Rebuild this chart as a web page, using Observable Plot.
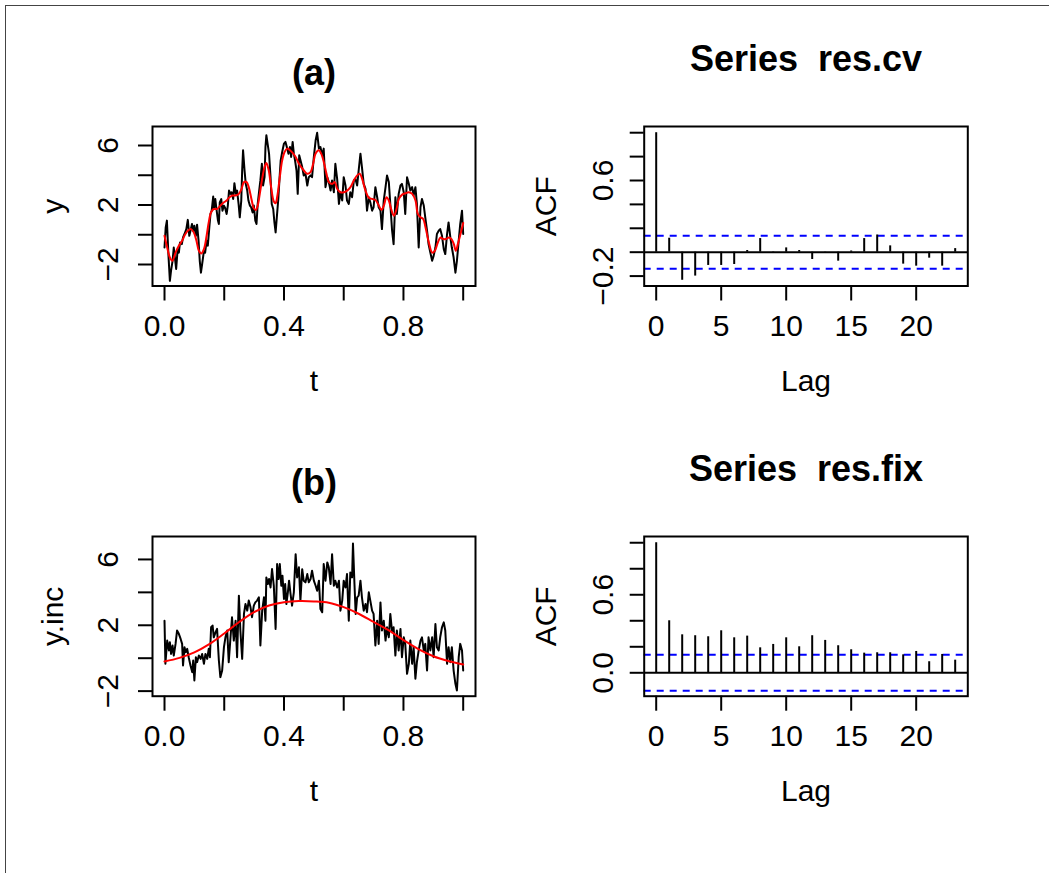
<!DOCTYPE html>
<html><head><meta charset="utf-8">
<script src="https://cdn.jsdelivr.net/npm/d3@7"></script>
<script src="https://cdn.jsdelivr.net/npm/@observablehq/plot@0.6"></script>
<style>
body{margin:0;background:#fff;}
#wrap{position:relative;width:1049px;height:873px;overflow:hidden;background:#fff;}
#border{position:absolute;left:5px;top:5px;width:2000px;height:2000px;border-left:1px solid #444;border-top:1px solid #444;}
#wrap svg{position:absolute;}
</style></head><body><div id="wrap"><div id="border"></div></div>
<script>
// ---------- data ----------
const aT = [0.000,0.004,0.008,0.013,0.018,0.022,0.027,0.031,0.036,0.039,0.044,0.048,0.052,0.058,0.062,0.067,0.073,0.078,0.083,0.087,0.092,0.096,0.100,0.105,0.109,0.114,0.118,0.122,0.126,0.132,0.136,0.141,0.145,0.150,0.154,0.158,0.163,0.166,0.170,0.174,0.179,0.182,0.185,0.190,0.194,0.199,0.203,0.208,0.212,0.216,0.221,0.225,0.230,0.234,0.239,0.243,0.248,0.252,0.257,0.260,0.263,0.268,0.272,0.277,0.281,0.286,0.290,0.295,0.299,0.304,0.308,0.312,0.317,0.321,0.326,0.330,0.335,0.338,0.341,0.346,0.350,0.355,0.359,0.364,0.368,0.372,0.376,0.381,0.385,0.389,0.394,0.400,0.405,0.411,0.415,0.420,0.424,0.429,0.433,0.437,0.442,0.446,0.451,
 0.461,0.466,0.472,0.478,0.483,0.489,0.494,0.500,0.506,0.511,0.517,0.522,0.528,0.533,0.539,0.545,0.550,0.556,0.561,0.567,0.572,0.578,0.584,0.589,0.595,0.600,0.606,0.611,0.617,0.622,0.628,0.634,0.639,0.645,0.650,0.656,0.661,0.667,0.673,0.678,0.684,0.689,0.695,0.700,0.706,0.712,0.717,0.723,0.728,0.734,0.740,0.745,0.751,0.756,0.762,0.767,0.773,0.778,0.784,0.790,0.795,0.801,0.806,0.812,0.818,0.823,0.829,0.834,0.840,0.845,0.851,0.857,0.862,0.868,0.873,0.879,0.884,0.890,0.896,0.901,0.907,0.912,0.918,0.923,0.929,0.935,0.940,0.946,0.951,0.957,0.962,0.968,0.974,0.979,0.985,0.990,0.996,1.000];
const aY = [-0.86,0.5,0.95,-1.3,-3.1,-2.4,-1.75,-0.86,-1.75,-2.3,-0.97,-1.2,-0.52,-0.63,-0.18,0.05,0.38,1.0,-0.07,0.27,0.72,0.27,0.6,-0.07,0.68,-0.4,-1.75,-2.55,-1.98,-1.08,-1.2,-0.4,-0.74,0.5,1.4,1.62,2.57,1.8,2.4,1.73,0.95,0.72,2.18,2.4,1.62,1.96,1.8,1.4,1.96,2.97,2.75,2.86,2.4,3.47,2.75,2.97,2.07,1.17,2.3,4.32,5.68,4.32,3.42,2.97,2.3,1.96,1.85,1.5,1.96,0.95,0.72,2.07,2.97,3.65,4.77,3.31,3.87,5.9,6.69,6.01,5.45,3.87,2.07,1.73,0.83,0.16,1.17,2.41,3.76,5.0,5.56,6.13,6.24,5.79,5.45,5.9,5.23,6.24,5.45,5.0,4.32,2.75,5.34,
 4.55,3.99,4.1,3.31,3.87,3.99,3.87,5.23,6.35,6.85,5.79,5.9,5.34,5.79,3.2,3.87,3.54,2.97,3.65,2.86,4.77,3.76,2.07,2.86,2.3,3.87,3.31,2.3,2.07,2.86,2.52,3.65,3.76,3.31,4.32,5.45,4.55,3.42,3.09,1.62,2.52,2.18,1.62,1.85,3.2,2.52,1.85,1.62,0.38,2.3,3.2,3.99,3.54,2.07,0.27,-0.63,2.52,1.4,2.75,3.31,3.42,2.86,1.4,3.87,3.42,2.97,3.2,2.64,3.2,2.07,-0.86,1.85,2.41,1.96,1.17,0.27,-0.63,-1.2,-1.75,-1.42,-0.86,0.05,0.27,0.38,-0.07,-0.97,-1.3,0.05,0.83,-0.18,-0.86,-1.53,-2.55,-1.75,-0.4,0.72,1.62,0.05];
const aFitT = [0,0.009,0.018,0.026,0.037,0.048,0.059,0.070,0.081,0.089,0.098,0.107,0.115,0.123,0.132,0.141,0.148,0.156,0.165,0.176,0.187,0.199,0.208,0.215,0.227,0.238,0.249,0.258,0.266,0.275,0.282,0.291,0.299,0.306,0.312,0.319,0.327,0.335,0.341,0.349,0.357,0.366,0.372,0.377,0.386,0.394,0.402,0.411,0.420,0.429,0.439,0.450,
 0.4665,0.4776,0.4888,0.4977,0.5055,0.5167,0.5245,0.5334,0.5423,0.5502,0.5613,0.5702,0.5781,0.5892,0.6004,0.6115,0.6227,0.6339,0.6450,0.6539,0.6617,0.6729,0.6841,0.6952,0.7064,0.7175,0.7265,0.7343,0.7432,0.7510,0.7588,0.7678,0.7767,0.7845,0.7957,0.8069,0.8180,0.8292,0.8403,0.8481,0.8571,0.8660,0.8738,0.8850,0.8961,0.9051,0.9151,0.9241,0.9330,0.9419,0.9520,0.9609,0.9687,0.9754,0.9821,0.9910,1.000];
const aFitY = [-0.07,-0.86,-1.53,-1.75,-1.2,-0.74,-0.4,0.05,0.32,0.38,0.16,-0.4,-1.08,-1.26,-0.97,-0.07,0.83,1.51,1.73,1.73,1.96,2.18,2.3,2.48,2.64,2.64,2.75,3.09,3.54,3.54,3.2,2.41,1.78,1.67,1.96,2.75,3.76,4.55,4.82,4.32,3.2,2.23,2.12,2.52,3.87,5.0,5.56,5.79,5.68,5.5,5.23,4.77,
 4.32,4.1,4.21,4.77,5.45,5.68,5.45,4.88,4.1,3.54,3.42,3.54,3.09,2.86,2.86,2.97,3.2,3.65,3.99,4.1,3.76,2.97,2.48,2.41,2.34,1.96,1.67,1.96,2.52,2.3,1.73,1.28,1.73,2.41,2.7,2.79,2.86,2.75,2.3,1.4,1.17,1.06,0.5,-0.52,-1.2,-1.08,-0.52,-0.18,-0.29,-0.29,-0.18,-0.29,-0.63,-1.08,-0.63,0.05,0.79];

const bT = [0,0.003,0.009,0.015,0.018,0.022,0.027,0.031,0.037,0.042,0.048,0.054,0.059,0.062,0.067,0.071,0.076,0.081,0.087,0.093,0.096,0.100,0.105,0.109,0.115,0.121,0.126,0.132,0.137,0.143,0.148,0.152,0.156,0.161,0.165,0.171,0.176,0.182,0.187,0.193,0.199,0.204,0.210,0.215,0.221,0.226,0.232,0.238,0.243,0.249,0.254,0.260,0.266,0.271,0.277,0.282,0.288,0.293,0.299,0.304,0.310,0.316,0.321,0.327,0.333,0.338,0.341,0.346,0.350,0.355,0.360,0.366,0.372,0.377,0.382,0.386,0.391,0.395,0.400,0.404,0.408,0.413,0.417,0.422,0.427,0.433,0.439,0.444,0.450,
 0.455,0.461,0.466,0.472,0.478,0.483,0.489,0.494,0.500,0.506,0.511,0.517,0.522,0.528,0.533,0.539,0.545,0.550,0.556,0.561,0.567,0.572,0.578,0.584,0.589,0.595,0.600,0.606,0.611,0.617,0.622,0.628,0.631,0.636,0.640,0.645,0.650,0.656,0.661,0.667,0.673,0.678,0.684,0.689,0.695,0.700,0.706,0.712,0.717,0.723,0.728,0.734,0.740,0.745,0.751,0.756,0.762,0.767,0.773,0.778,0.784,0.790,0.795,0.801,0.806,0.812,0.818,0.823,0.829,0.834,0.840,0.845,0.851,0.857,0.862,0.868,0.873,0.879,0.884,0.890,0.896,0.901,0.907,0.912,0.918,0.923,0.929,0.935,0.940,0.946,0.951,0.957,0.962,0.968,0.974,0.979,0.985,0.990,0.996,1.0];
const bY = [2.28,-0.34,1.07,0.47,0.97,0.26,0.77,0.16,0.87,1.68,1.48,1.17,0.87,-0.44,0.67,0.36,0.57,0.06,-0.44,-0.85,-0.14,-1.35,0.06,-0.24,0.16,-0.04,0.26,-0.34,0.26,-0.04,0.57,0.06,1.88,1.98,1.27,1.58,1.78,-0.14,-1.15,-0.75,0.67,1.27,1.68,-0.24,1.27,2.49,1.07,2.28,0.06,3.8,1.68,-0.04,2.69,3.29,2.89,3.5,3.09,2.49,3.19,3.39,3.5,3.7,0.77,2.89,3.7,2.28,4.91,4.51,4.81,4.3,5.42,4.4,1.78,5.72,4.81,5.72,4.4,5.01,3.6,4.51,3.29,4.0,4.71,3.9,3.19,4.0,6.32,4.91,5.52,
 3.5,5.41,4.71,4.61,5.11,4.61,4.81,5.31,4.71,4.4,4.1,4.71,2.99,2.79,5.72,4.71,5.82,5.52,4.51,6.32,4.4,4.71,4.3,4.71,2.89,3.5,4.71,4.3,5.11,2.28,5.21,4.91,6.97,4.51,2.69,3.7,3.8,4.71,3.7,2.89,3.29,2.79,4.0,3.5,2.89,2.69,0.77,2.28,0.87,3.39,1.68,2.28,1.07,1.88,1.27,2.69,1.58,1.88,0.16,1.68,0.47,1.78,0.06,1.27,0.87,-0.95,-0.34,1.07,-0.34,0.67,-1.25,-0.24,0.47,1.07,1.27,0.47,0.87,-0.75,1.27,0.47,1.27,0.06,2.08,0.67,0.47,1.27,1.88,2.18,1.68,-0.34,0.67,-0.24,0.67,-0.75,-1.56,-1.96,0.06,0.87,0.47,-0.75];
const bFitT = [0,0.05,0.10,0.15,0.20,0.25,0.30,0.35,0.40,0.45,0.50,0.55,0.60,0.65,0.70,0.75,0.80,0.85,0.90,0.95,1.0];
const bFitY = [-0.2,0.02,0.35,0.85,1.50,2.20,2.80,3.20,3.40,3.47,3.45,3.37,3.10,2.70,2.20,1.70,1.10,0.55,0.12,-0.17,-0.38];

const lags   = [0,1,2,3,4,5,6,7,8,9,10,11,12,13,14,15,16,17,18,19,20,21,22,23];
const acfCv  = [1,0.117,-0.235,-0.20,-0.111,-0.111,-0.103,0.014,0.114,0.003,0.036,0.014,-0.061,0.002,-0.075,0.01,0.114,0.144,0.053,-0.10,-0.117,-0.05,-0.117,0.03];
const acfFix = [1,0.400,0.292,0.285,0.277,0.323,0.269,0.282,0.192,0.218,0.269,0.200,0.285,0.249,0.208,0.177,0.151,0.154,0.154,0.138,0.164,0.085,0.141,0.097];
const ciBand = [0.1386, -0.1386];

const tTicks = [0,0.2,0.4,0.6,0.8,1.0];
const tLabels = ["0.0","","0.4","","0.8",""];
const vTicks = [-2,0,2,4,6];
const vLabels = ["\u22122","","2","","6"];
const lagTicks = [0,5,10,15,20];
const lagLabels = ["0","5","10","15","20"];
const cvTicks = [-0.2,0,0.2,0.4,0.6,0.8,1.0];
const cvLabels = ["\u22120.2","","","","0.6","",""];
const fixTicks = [0,0.2,0.4,0.6,0.8,1.0];
const fixLabels = ["0.0","","","0.6","",""];

// ---------- drawing ----------
const FONT = "'Liberation Sans', Arial, Helvetica, sans-serif";
const LW = 2;
const AX = 30, TI = 36;
const wrap = document.getElementById("wrap");
const pts = (T, V) => T.map((t, i) => ({t, v: V[i]}));

function panel(o) {
  const [bl, br, bt, bb] = o.box;
  const xl = o.xTicks.map((v, i) => ({v, s: o.xLabels[i]})).filter(d => d.s);
  const yl = o.yTicks.map((v, i) => ({v, s: o.yLabels[i]})).filter(d => d.s);
  const svg = Plot.plot({
    width: o.width, height: o.height,
    marginLeft: bl - o.left, marginRight: o.left + o.width - br,
    marginTop: bt - o.top, marginBottom: o.top + o.height - bb,
    x: {domain: o.xDomain, axis: null},
    y: {domain: o.yDomain, axis: null},
    style: {fontFamily: FONT, fontSize: AX + "px", color: "black", background: "transparent", overflow: "visible"},
    marks: [
      ...o.marks,
      Plot.axisX({ticks: o.xTicks, tickSize: 15, tickFormat: () => "", label: null, strokeWidth: LW}),
      Plot.axisY({ticks: o.yTicks, tickSize: 14, tickFormat: () => "", label: null, strokeWidth: LW}),
      Plot.text(xl, {x: "v", text: "s", frameAnchor: "bottom", dy: 49.5, lineAnchor: "bottom", fontSize: AX, fill: "black"}),
      Plot.text(yl, {y: "v", text: "s", frameAnchor: "left", dx: -o.yLabOff, rotate: -90, textAnchor: "middle", lineAnchor: "bottom", fontSize: AX, fill: "black"}),
      Plot.text([o.xTitle], {text: d => d, frameAnchor: "bottom", dy: 104.5, lineAnchor: "bottom", fontSize: AX, fill: "black"}),
      Plot.text([o.yTitle], {text: d => d, frameAnchor: "left", dx: -o.yTitOff, rotate: -90, textAnchor: "middle", lineAnchor: "bottom", fontSize: AX, fill: "black"}),
      Plot.text([o.title], {text: d => d, frameAnchor: "top", dy: -o.titleOff, lineAnchor: "bottom", fontSize: TI, fontWeight: "bold", fill: "black"}),
      Plot.frame({stroke: "black", strokeWidth: LW})
    ]
  });
  svg.style.left = o.left + "px";
  svg.style.top = o.top + "px";
  wrap.appendChild(svg);
}

function seriesMarks(T, V, FT, FV) {
  return [
    Plot.line(pts(T, V), {x: "t", y: "v", stroke: "black", strokeWidth: LW, strokeLinejoin: "round"}),
    Plot.line(pts(FT, FV), {x: "t", y: "v", stroke: "#FF0000", strokeWidth: LW, curve: "catmull-rom"})
  ];
}
function acfMarks(A) {
  const d = lags.map((l, i) => ({l, a: A[i]}));
  return [
    Plot.ruleY([0], {stroke: "black", strokeWidth: LW}),
    Plot.ruleY(ciBand, {stroke: "#0000FF", strokeWidth: LW, strokeDasharray: "7,6"}),
    Plot.ruleX(d, {x: "l", y1: 0, y2: "a", stroke: "black", strokeWidth: LW})
  ];
}

panel({left: 0, top: 0, width: 524, height: 436, box: [152, 475, 126, 285.5],
  xDomain: [-0.0402, 1.0412], yDomain: [-3.445, 7.277],
  xTicks: tTicks, xLabels: tLabels, yTicks: vTicks, yLabels: vLabels,
  xTitle: "t", yTitle: "y", title: "(a)", titleOff: 42, yLabOff: 35, yTitOff: 90,
  marks: seriesMarks(aT, aY, aFitT, aFitY)});

panel({left: 524, top: 0, width: 525, height: 436, box: [643.7, 967.3, 126, 285.5],
  xDomain: [-0.923, 23.97], yDomain: [-0.283, 1.052],
  xTicks: lagTicks, xLabels: lagLabels, yTicks: cvTicks, yLabels: cvLabels,
  xTitle: "Lag", yTitle: "ACF", title: "Series  res.cv", titleOff: 55.5, yLabOff: 31, yTitOff: 88,
  marks: acfMarks(acfCv)});

panel({left: 0, top: 436, width: 524, height: 437, box: [152, 475, 536, 695.7],
  xDomain: [-0.0402, 1.0412], yDomain: [-2.309, 7.394],
  xTicks: tTicks, xLabels: tLabels, yTicks: vTicks, yLabels: vLabels,
  xTitle: "t", yTitle: "y.inc", title: "(b)", titleOff: 42, yLabOff: 35, yTitOff: 90,
  marks: seriesMarks(bT, bY, bFitT, bFitY)});

panel({left: 524, top: 436, width: 525, height: 437, box: [643.7, 967.3, 536, 695.7],
  xDomain: [-0.923, 23.97], yDomain: [-0.18, 1.048],
  xTicks: lagTicks, xLabels: lagLabels, yTicks: fixTicks, yLabels: fixLabels,
  xTitle: "Lag", yTitle: "ACF", title: "Series  res.fix", titleOff: 55.5, yLabOff: 31, yTitOff: 88,
  marks: acfMarks(acfFix)});
</script>
</body></html>
